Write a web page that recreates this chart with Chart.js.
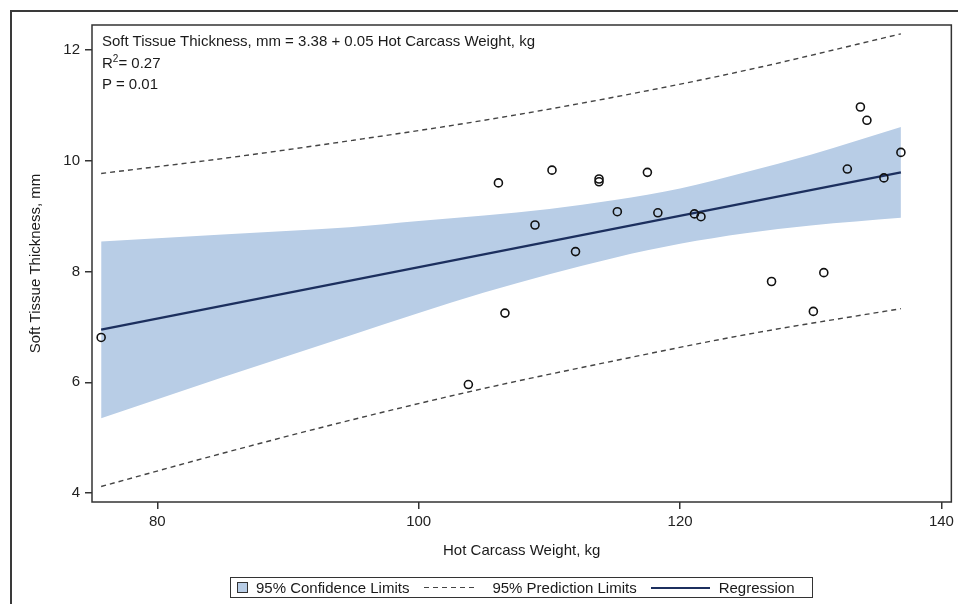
<!DOCTYPE html>
<html>
<head>
<meta charset="utf-8">
<script src="https://cdn.jsdelivr.net/npm/chart.js@4.4.0/dist/chart.umd.min.js"></script>
<style>
  body { margin: 0; background: #fff; font-family: "Liberation Sans", Arial, sans-serif; color: #1a1a1a; }
  #wrap { position: relative; width: 958px; height: 604px; overflow: hidden; }
  #frame { position: absolute; left: 10px; top: 10px; width: 980px; height: 620px; border-left: 2px solid #3a3a3a; border-top: 2px solid #3a3a3a; }
  canvas { position: absolute; left: 0; top: 0; }
  #note { position: absolute; left: 102px; top: 30px; font-size: 15px; line-height: 21.5px; }
  #note sup { font-size: 10px; line-height: 0; }
  #legend { position: absolute; left: 230px; top: 577px; width: 581px; height: 19px; border: 1px solid #333;
            display: flex; align-items: center; font-size: 15px; white-space: nowrap; }
  #legend .sw { width: 9px; height: 9px; border: 1px solid #333; background: #b8cde6; margin: 0 8px 0 6px; }
  #legend .dash { width: 53px; height: 1.5px; margin: 0 15px;
                  background: repeating-linear-gradient(90deg, #444 0 5px, transparent 5px 9px); }
  #legend .solid { width: 59px; height: 2px; background: #1c2f5e; margin: 0 9px 0 14px; }
</style>
</head>
<body>
<div id="wrap">
  <div id="frame"></div>
  <canvas id="chart" width="958" height="604"></canvas>
  <div id="note">
    Soft Tissue Thickness, mm = 3.38 + 0.05 Hot Carcass Weight, kg<br>
    R<sup>2</sup>= 0.27<br>
    P = 0.01
  </div>
  <div id="legend">
    <span class="sw"></span><span>95% Confidence Limits</span>
    <span class="dash"></span><span>95% Prediction Limits</span>
    <span class="solid"></span><span>Regression</span>
  </div>
</div>
<script>
// observed points
const weights   = [75.7, 103.8, 106.1, 106.6, 108.9, 110.2, 112.0, 113.8, 113.8, 115.2, 117.5,
                   118.3, 121.1, 121.6, 127.0, 130.2, 131.0, 132.8, 133.8, 134.3, 135.6, 136.9];
const thickness = [6.81, 5.96, 9.60, 7.25, 8.84, 9.83, 8.36, 9.67, 9.62, 9.08, 9.79,
                   9.06, 9.04, 8.99, 7.82, 7.28, 7.98, 9.85, 10.97, 10.73, 9.69, 10.15];

// regression line
const regX = [75.7, 136.9];
const regY = [6.95, 9.79];

// 95% confidence band
const bandX     = [75.7, 85, 94.7, 100, 105, 110, 115, 120, 125, 130, 136.9];
const bandUpper = [8.54, 8.67, 8.80, 8.91, 9.01, 9.13, 9.29, 9.50, 9.79, 10.11, 10.61];
const bandLower = [5.35, 6.09, 6.84, 7.25, 7.62, 7.95, 8.25, 8.50, 8.69, 8.83, 8.97];

// 95% prediction limits
const predX  = [75.7, 85, 95, 105, 115, 125, 136.9];
const predUp = [9.77, 10.04, 10.37, 10.73, 11.15, 11.63, 12.29];
const predLo = [4.12, 4.72, 5.33, 5.89, 6.39, 6.86, 7.33];

// axis ticks
const xTicks = [80, 100, 120, 140];
const yTicks = [4, 6, 8, 10, 12];

const pts = (xs, ys) => xs.map((x, i) => ({ x: x, y: ys[i] }));

// frame round the plot area
const framePlugin = {
  id: "frame",
  afterDraw(chart) {
    const { ctx, chartArea: a } = chart;
    ctx.save();
    ctx.strokeStyle = "#333";
    ctx.lineWidth = 1.5;
    ctx.strokeRect(a.left, a.top, a.right - a.left, a.bottom - a.top);
    ctx.restore();
  }
};

const tickFont = { family: "Liberation Sans", size: 15 };

new Chart(document.getElementById("chart"), {
  type: "line",
  data: {
    datasets: [
      {
        data: pts(bandX, bandUpper),
        borderWidth: 0, pointRadius: 0, fill: false,
        cubicInterpolationMode: "monotone", order: 4
      },
      {
        data: pts(bandX, bandLower),
        borderWidth: 0, pointRadius: 0, fill: "-1",
        backgroundColor: "#b8cde6",
        cubicInterpolationMode: "monotone", order: 3
      },
      {
        data: pts(predX, predUp),
        borderColor: "#444", borderWidth: 1.4, borderDash: [5, 4], pointRadius: 0,
        cubicInterpolationMode: "monotone", order: 2
      },
      {
        data: pts(predX, predLo),
        borderColor: "#444", borderWidth: 1.4, borderDash: [5, 4], pointRadius: 0,
        cubicInterpolationMode: "monotone", order: 2
      },
      {
        data: pts(regX, regY),
        borderColor: "#1c2f5e", borderWidth: 2.2, pointRadius: 0, order: 1
      },
      {
        type: "scatter",
        data: pts(weights, thickness),
        showLine: false,
        pointRadius: 4, pointBorderWidth: 1.6,
        pointBorderColor: "#111", pointBackgroundColor: "rgba(0,0,0,0)",
        order: 0
      }
    ]
  },
  options: {
    responsive: false,
    devicePixelRatio: 1,
    animation: false,
    layout: { padding: { left: 0, right: 5, top: 25, bottom: 0 } },
    plugins: { legend: { display: false }, tooltip: { enabled: false } },
    scales: {
      x: {
        type: "linear",
        min: 75, max: 140.76,
        afterFit: s => { s.height = 102; },
        afterBuildTicks: s => { s.ticks = xTicks.map(v => ({ value: v })); },
        border: { display: false },
        grid: { drawOnChartArea: false, tickLength: 7, color: "#333", lineWidth: 1.5 },
        ticks: { font: tickFont, color: "#222", padding: 4 },
        title: {
          display: true, text: "Hot Carcass Weight, kg",
          font: { family: "Liberation Sans", size: 15 }, color: "#1a1a1a",
          padding: { top: 0, bottom: 44 }
        }
      },
      y: {
        min: 3.84, max: 12.45,
        afterFit: s => { s.width = 92; },
        afterBuildTicks: s => { s.ticks = yTicks.map(v => ({ value: v })); },
        border: { display: false },
        grid: { drawOnChartArea: false, tickLength: 7, color: "#333", lineWidth: 1.5 },
        ticks: { font: tickFont, color: "#222", padding: 5 },
        title: {
          display: true, text: "Soft Tissue Thickness, mm",
          font: { family: "Liberation Sans", size: 15 }, color: "#1a1a1a",
          padding: { top: 27, bottom: 0 }
        }
      }
    }
  },
  plugins: [framePlugin]
});
</script>
</body>
</html>
